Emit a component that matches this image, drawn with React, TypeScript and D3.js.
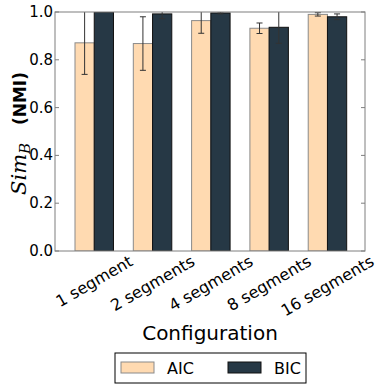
import React, { useEffect } from "react";
import * as d3 from "d3";

// data
const categories = ["1 segment", "2 segments", "4 segments", "8 segments", "16 segments"];
const aicValues = [0.871, 0.868, 0.964, 0.932, 0.99];
const aicErrors = [0.132, 0.112, 0.053, 0.022, 0.007];
const bicValues = [1.0, 0.992, 0.996, 0.936, 0.98];
const bicErrors = [0.0, 0.02, 0.004, 0.067, 0.012];
const yTicks = [0, 0.2, 0.4, 0.6, 0.8, 1.0];
const seriesNames = ["AIC", "BIC"];

const aicColor = "#ffdab1";
const bicColor = "#263845";
const spineColor = "#7f7f7f";
const sans = "'DejaVu Sans', sans-serif";

function textWidth(s: string, font: string) {
  const ctx = document.createElement("canvas").getContext("2d");
  if (!ctx) return s.length * 9;
  ctx.font = font;
  return ctx.measureText(s).width;
}

function App() {
  useEffect(() => {
    document.body.style.margin = "0";
  }, []);

  const w = 382,
    h = 388,
    margin = { top: 12, left: 55, right: 17, bottom: 137 };
  const plotRight = w - margin.right,
    plotBottom = h - margin.bottom;

  const barWidth = 0.33;
  const xScale = d3.scaleLinear().domain([-0.343, 4.974]).range([margin.left, plotRight]);
  const yScale = d3.scaleLinear().domain([0, 1]).range([plotBottom, margin.top]);

  const bw = xScale(barWidth) - xScale(0);

  const bars = categories.map((c, i) => (
    <g key={c}>
      <rect
        x={xScale(i)}
        y={yScale(aicValues[i])}
        width={bw}
        height={plotBottom - yScale(aicValues[i])}
        fill={aicColor}
        stroke="#8a8a8a"
        strokeWidth={1}
      />
      <rect
        x={xScale(i + barWidth)}
        y={yScale(bicValues[i])}
        width={bw}
        height={plotBottom - yScale(bicValues[i])}
        fill={bicColor}
        stroke="#111"
        strokeWidth={1}
      />
    </g>
  ));

  const errBar = (cx: number, v: number, e: number, key: string) => {
    if (e <= 0) return null;
    const y1 = yScale(v + e),
      y2 = yScale(v - e);
    return (
      <g key={key} stroke="#333" strokeWidth={1}>
        <line x1={cx} x2={cx} y1={y1} y2={y2} />
        <line x1={cx - 3} x2={cx + 3} y1={y1} y2={y1} />
        <line x1={cx - 3} x2={cx + 3} y1={y2} y2={y2} />
      </g>
    );
  };

  const errors = categories.map((c, i) => (
    <g key={c}>
      {errBar(xScale(i + barWidth / 2), aicValues[i], aicErrors[i], "a" + i)}
      {errBar(xScale(i + barWidth * 1.5), bicValues[i], bicErrors[i], "b" + i)}
    </g>
  ));

  const yAxis = yTicks.map((t) => (
    <g key={t}>
      <line x1={margin.left} x2={margin.left + 4} y1={yScale(t)} y2={yScale(t)} stroke={spineColor} />
      <line x1={plotRight - 4} x2={plotRight} y1={yScale(t)} y2={yScale(t)} stroke={spineColor} />
      <text
        x={margin.left - 2}
        y={yScale(t)}
        textAnchor="end"
        dominantBaseline="central"
        fontSize={15}
        fontFamily={sans}
        fill="#000"
      >
        {t.toFixed(1)}
      </text>
    </g>
  ));

  const xLabels = categories.map((c, i) => {
    const tw = textWidth(c, "16px 'DejaVu Sans'");
    const cx = xScale(i + barWidth);
    const cy = plotBottom + 2 + (0.5 * tw + 0.866 * 16) / 2;
    return (
      <text
        key={c}
        transform={`translate(${cx},${cy}) rotate(-30)`}
        textAnchor="middle"
        dominantBaseline="central"
        fontSize={16}
        fontFamily={sans}
      >
        {c}
      </text>
    );
  });

  const cyMid = (margin.top + plotBottom) / 2;

  return (
    <svg width={w} height={h} style={{ display: "block", background: "#fff" }}>
      <defs>
        <clipPath id="plot-clip">
          <rect x={margin.left} y={margin.top} width={plotRight - margin.left} height={plotBottom - margin.top} />
        </clipPath>
      </defs>
      <g clipPath="url(#plot-clip)">
        {bars}
        {errors}
      </g>
      <rect
        x={margin.left}
        y={margin.top}
        width={plotRight - margin.left}
        height={plotBottom - margin.top}
        fill="none"
        stroke={spineColor}
        strokeWidth={1}
      />
      {yAxis}
      {xLabels}
      <text
        transform={`translate(26,${cyMid + 2}) rotate(-90)`}
        textAnchor="middle"
        fill="#000"
      >
        <tspan fontFamily="'DejaVu Serif', serif" fontStyle="italic" fontSize={21}>
          Sim
        </tspan>
        <tspan fontFamily="'DejaVu Serif', serif" fontStyle="italic" fontSize={15} dy={4}>
          B
        </tspan>
        <tspan fontFamily={sans} fontWeight="bold" fontSize={17} dy={-4}>
          {"\u00a0\u00a0\u00a0(NMI)"}
        </tspan>
      </text>
      <text
        x={(margin.left + plotRight) / 2}
        y={340}
        textAnchor="middle"
        fontSize={20}
        fontFamily={sans}
      >
        Configuration
      </text>
      <g>
        <rect x={115} y={353} width={191} height={30} fill="#fff" stroke="#000" strokeWidth={1} />
        {seriesNames.map((s, i) => (
          <g key={s} transform={`translate(${121 + i * 107},0)`}>
            <rect
              x={0}
              y={362}
              width={33}
              height={11}
              fill={i === 0 ? aicColor : bicColor}
              stroke={i === 0 ? "#8a8a8a" : "#111"}
            />
            <text x={46} y={373.5} fontSize={16} fontFamily={sans}>
              {s}
            </text>
          </g>
        ))}
      </g>
    </svg>
  );
}

export default App;
